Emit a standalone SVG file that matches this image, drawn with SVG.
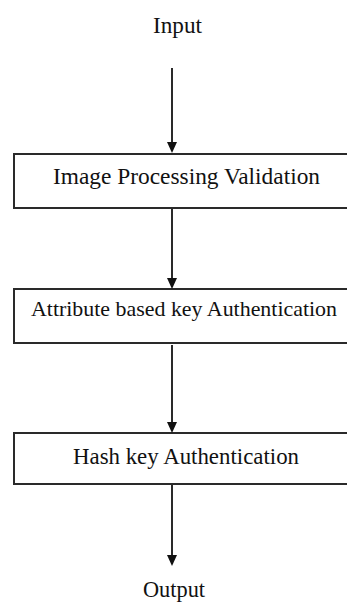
<svg xmlns="http://www.w3.org/2000/svg" width="347" height="602" viewBox="0 0 347 602">
<style>
.box{fill:#fff;stroke:#2a2a2a;stroke-width:2}
.lbl{font-family:"Liberation Serif","Times New Roman",serif;font-size:24px;fill:#111;text-anchor:middle}
.sm{font-size:22px}
.con{stroke:#2a2a2a;stroke-width:2;fill:none}
.head{fill:#111}
</style>
<rect width="347" height="602" fill="#fff"/>
<g id="input"><text class="lbl" x="177.5" y="33" textLength="49" lengthAdjust="spacingAndGlyphs">Input</text></g>
<g id="n1"><rect class="box" x="14" y="154" width="350" height="54"/><text class="lbl" x="186.5" y="184" textLength="267" lengthAdjust="spacingAndGlyphs">Image Processing  Validation</text></g>
<g id="n2"><rect class="box" x="14" y="289" width="350" height="54"/><text class="lbl sm" x="184" y="316" textLength="306" lengthAdjust="spacingAndGlyphs">Attribute based key Authentication</text></g>
<g id="n3"><rect class="box" x="14" y="433" width="350" height="51"/><text class="lbl" x="186" y="464" textLength="226" lengthAdjust="spacingAndGlyphs">Hash key Authentication</text></g>
<g id="output"><text class="lbl" x="174" y="597" textLength="62" lengthAdjust="spacingAndGlyphs">Output</text></g>
<g id="connectors">
<line class="con" x1="172" y1="68" x2="172" y2="145"/><path class="head" d="M167,142 L177,142 L172,153 Z"/>
<line class="con" x1="172" y1="208" x2="172" y2="280"/><path class="head" d="M167,278 L177,278 L172,289 Z"/>
<line class="con" x1="172" y1="345" x2="172" y2="424"/><path class="head" d="M167,422 L177,422 L172,433 Z"/>
<line class="con" x1="172" y1="484" x2="172" y2="558"/><path class="head" d="M167,555 L177,555 L172,566 Z"/>
</g>
</svg>
